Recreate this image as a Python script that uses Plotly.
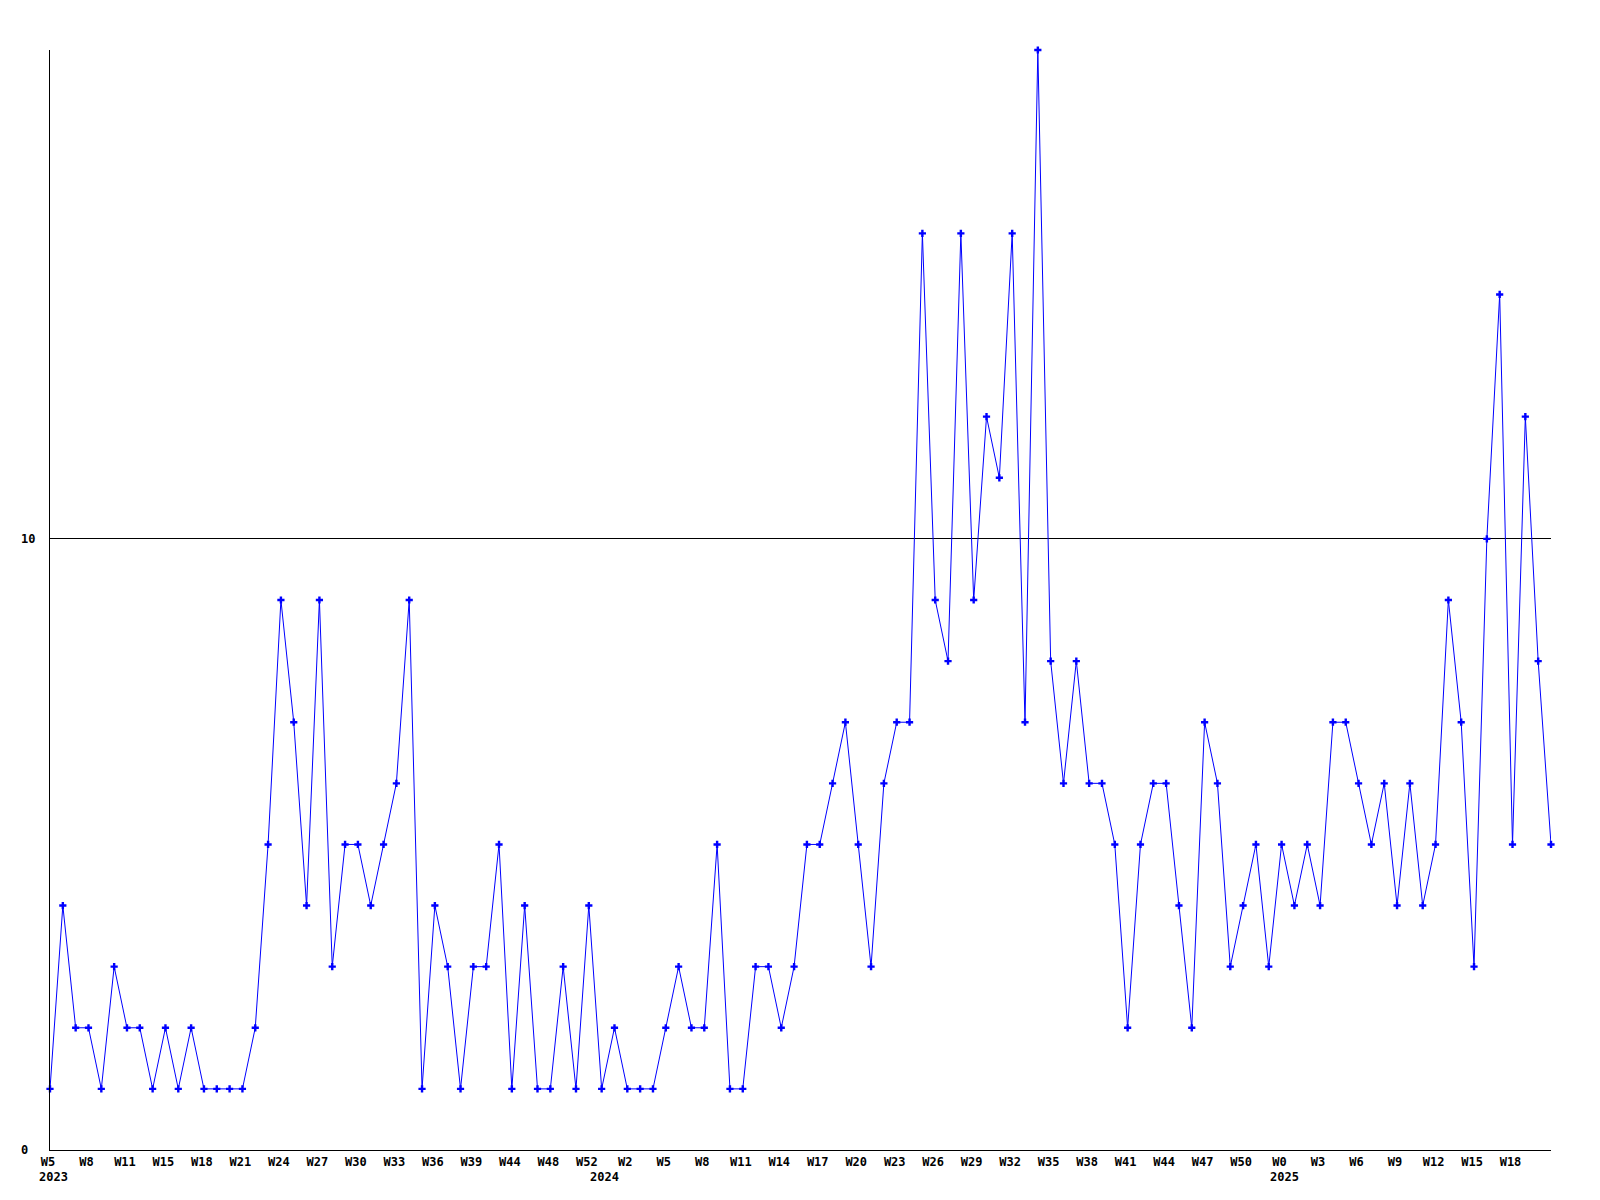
import plotly.graph_objects as go

# Weekly counts (one value per week)
values = [
    1, 4, 2, 2, 1, 3, 2, 2, 1, 2, 1, 2, 1, 1, 1, 1, 2, 5, 9, 7,
    4, 9, 3, 5, 5, 4, 5, 6, 9, 1, 4, 3, 1, 3, 3, 5, 1, 4, 1, 1,
    3, 1, 4, 1, 2, 1, 1, 1, 2, 3, 2, 2, 5, 1, 1, 3, 3, 2, 3, 5,
    5, 6, 7, 5, 3, 6, 7, 7, 15, 9, 8, 15, 9, 12, 11, 15, 7, 18, 8, 6,
    8, 6, 6, 5, 2, 5, 6, 6, 4, 2, 7, 6, 3, 4, 5, 3, 5, 4, 5, 4,
    7, 7, 6, 5, 6, 4, 6, 4, 5, 9, 7, 3, 10, 14, 5, 12, 8, 5,
]

# Week tick labels (every third point)
week_labels = [
    "W5", "W8", "W11", "W15", "W18", "W21", "W24", "W27", "W30", "W33",
    "W36", "W39", "W44", "W48", "W52", "W2", "W5", "W8", "W11", "W14",
    "W17", "W20", "W23", "W26", "W29", "W32", "W35", "W38", "W41", "W44",
    "W47", "W50", "W0", "W3", "W6", "W9", "W12", "W15", "W18",
]
label_step = 3

# Year labels and the point index where each year starts
years = ["2023", "2024", "2025"]
year_start_index = [0, 43, 96]

y_ticks = [0, 10]
y_max = 18

x = list(range(len(values)))
tick_positions = [i * label_step for i in range(len(week_labels))]

FONT = dict(family="DejaVu Sans Mono", size=12, color="black", weight="bold")

fig = go.Figure()
fig.add_trace(go.Scatter(
    x=x, y=values, mode="lines+markers",
    line=dict(color="#0000ff", width=1),
    marker=dict(symbol="cross", size=6, color="#0000ff"),
    cliponaxis=False,
    showlegend=False,
))

annotations = []
for yr, idx in zip(years, year_start_index):
    annotations.append(dict(
        x=idx, y=0, xref="x", yref="paper", text=yr, showarrow=False,
        xanchor="center", yanchor="top", yshift=-18, xshift=3, font=FONT,
    ))
for v in y_ticks:
    annotations.append(dict(
        x=0, y=v, xref="paper", yref="y", text=str(v), showarrow=False,
        xanchor="left", yanchor="middle", xshift=-31, font=FONT,
    ))

fig.update_layout(
    width=1584, height=1184,
    margin=dict(l=42, r=41, t=42, b=42),
    paper_bgcolor="white", plot_bgcolor="white",
    annotations=annotations,
    xaxis=dict(
        range=[0, len(values) - 1], showgrid=False, zeroline=False,
        showline=True, linecolor="black", linewidth=1,
        tickmode="array", tickvals=tick_positions, ticktext=week_labels,
        ticks="", tickfont=FONT, ticklabelshift=-2, ticklabelstandoff=1,
    ),
    yaxis=dict(
        range=[0, y_max], showgrid=True, gridcolor="black", gridwidth=1,
        zeroline=False, showline=True, linecolor="black", linewidth=1,
        tickmode="array", tickvals=y_ticks, showticklabels=False, ticks="",
    ),
)

fig.write_html("out.html")
